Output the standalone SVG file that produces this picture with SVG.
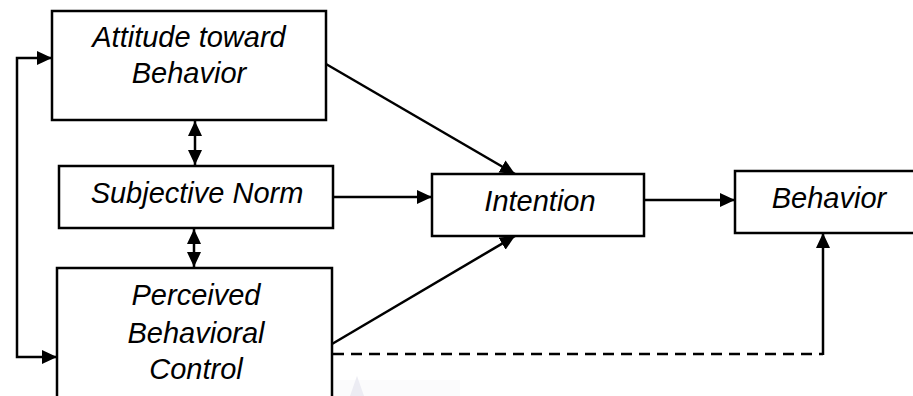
<svg xmlns="http://www.w3.org/2000/svg" width="913" height="396" viewBox="0 0 913 396">
  <style>
    .box { fill: #ffffff; stroke: #000000; stroke-width: 2.5; }
    .label { font-family: "Liberation Sans", Arial, sans-serif; font-style: italic; font-size: 29px; fill: #000000; text-anchor: middle; }
    .edge { fill: none; stroke: #000000; stroke-width: 2.5; }
    .dashed { stroke-dasharray: 11 7; }
  </style>
  <defs>
    <marker id="arrow" viewBox="0 0 15 14" refX="15" refY="7" markerUnits="userSpaceOnUse" markerWidth="15" markerHeight="14" orient="auto-start-reverse">
      <path d="M0,0 L15,7 L0,14 z" fill="#000000"/>
    </marker>
  </defs>

  <rect width="913" height="396" fill="#ffffff"/>

  <!-- faint smudge near the bottom edge -->
  <g id="smudge" opacity="0.35">
    <rect x="300" y="380" width="160" height="16" fill="#f4f4f8"/>
    <path d="M357,376 L350,396 L364,396 z" fill="#c9c9dd"/>
  </g>

  <g id="connectors">
    <!-- feedback loop on the left -->
    <path class="edge" d="M52,58 H17 V357 H57" marker-start="url(#arrow)" marker-end="url(#arrow)"/>
    <!-- correlations between the three antecedents -->
    <line class="edge" x1="195" y1="121" x2="195" y2="165" marker-start="url(#arrow)" marker-end="url(#arrow)"/>
    <line class="edge" x1="194" y1="229" x2="194" y2="267" marker-start="url(#arrow)" marker-end="url(#arrow)"/>
    <!-- antecedents to intention -->
    <line class="edge" x1="326" y1="64" x2="515" y2="174" marker-end="url(#arrow)"/>
    <line class="edge" x1="333" y1="197" x2="432" y2="197" marker-end="url(#arrow)"/>
    <line class="edge" x1="332" y1="344" x2="515" y2="236" marker-end="url(#arrow)"/>
    <!-- intention to behavior -->
    <line class="edge" x1="644" y1="200" x2="735" y2="200" marker-end="url(#arrow)"/>
    <!-- direct path from perceived control to behavior -->
    <path class="edge dashed" d="M333,354 H823"/>
    <line class="edge" x1="823" y1="355" x2="823" y2="233" marker-end="url(#arrow)"/>
  </g>

  <g id="attitude">
    <rect class="box" x="52" y="11" width="274" height="109"/>
    <text class="label" x="189" y="47">Attitude toward</text>
    <text class="label" x="189" y="83">Behavior</text>
  </g>

  <g id="subjective-norm">
    <rect class="box" x="59" y="166" width="274" height="62"/>
    <text class="label" x="197" y="203">Subjective Norm</text>
  </g>

  <g id="perceived-control">
    <rect class="box" x="57" y="268" width="275" height="140"/>
    <text class="label" x="196" y="305">Perceived</text>
    <text class="label" x="196" y="343">Behavioral</text>
    <text class="label" x="196" y="379">Control</text>
  </g>

  <g id="intention">
    <rect class="box" x="432" y="174" width="212" height="62"/>
    <text class="label" x="540" y="211">Intention</text>
  </g>

  <g id="behavior">
    <rect class="box" x="735" y="171" width="190" height="62"/>
    <text class="label" x="829" y="208">Behavior</text>
  </g>
</svg>
